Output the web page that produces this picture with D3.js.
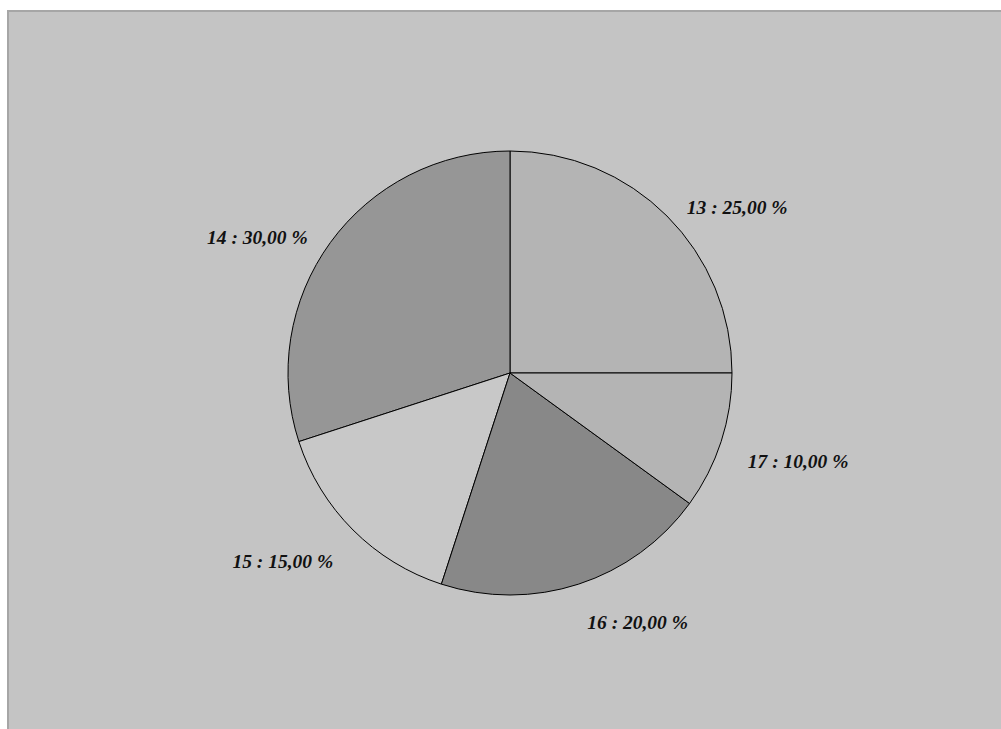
<!DOCTYPE html>
<html>
<head>
<meta charset="utf-8">
<script src="https://cdn.jsdelivr.net/npm/d3@7"></script>
<style>
  body { margin: 0; background: #ffffff; }
  .label { font-family: "Liberation Serif", "Times New Roman", serif; font-weight: bold; font-style: italic; font-size: 19.5px; fill: #111; }
</style>
</head>
<body>
<div id="chart"></div>
<script>
// slice data, counter-clockwise from 3 o'clock
var categories = ["13", "14", "15", "16", "17"];
var values = [25, 30, 15, 20, 10];
var colors = ["#b4b4b4", "#969696", "#c8c8c8", "#888888", "#b4b4b4"];

var width = 1001, height = 729;
var cx = 510, cy = 373, radius = 222;

var svg = d3.select("#chart").append("svg")
    .attr("width", width)
    .attr("height", height);

// panel with its grey frame
svg.append("rect")
    .attr("x", 8)
    .attr("y", 11)
    .attr("width", width)
    .attr("height", height)
    .attr("fill", "#c4c4c4")
    .attr("stroke", "#a6a6a6")
    .attr("stroke-width", 2);

var total = d3.sum(values);
var data = categories.map(function(c, i) {
    return { name: c, value: values[i], color: colors[i] };
});

var pie = d3.pie()
    .sort(null)
    .value(function(d) { return d.value; })
    .startAngle(Math.PI / 2)
    .endAngle(Math.PI / 2 - 2 * Math.PI);

var arc = d3.arc().innerRadius(0).outerRadius(radius);

var g = svg.append("g")
    .attr("transform", "translate(" + cx + "," + cy + ")");

var arcs = pie(data);

g.selectAll("path")
    .data(arcs)
    .enter().append("path")
    .attr("d", arc)
    .attr("fill", function(d) { return d.data.color; })
    .attr("stroke", "#000")
    .attr("stroke-width", 1);

// labels sit just outside the rim, text hangs below the anchor point
var labelR = 250;
function fmt(v) {
    return (v / total * 100).toFixed(2).replace(".", ",");
}
g.selectAll("text.label")
    .data(arcs)
    .enter().append("text")
    .attr("class", "label")
    .attr("x", function(d) {
        var a = (d.startAngle + d.endAngle) / 2;
        return labelR * Math.sin(a);
    })
    .attr("y", function(d) {
        var a = (d.startAngle + d.endAngle) / 2;
        return -labelR * Math.cos(a);
    })
    .attr("dy", "0.92em")
    .attr("text-anchor", function(d) {
        var a = (d.startAngle + d.endAngle) / 2;
        return Math.sin(a) >= 0 ? "start" : "end";
    })
    .text(function(d) { return d.data.name + " : " + fmt(d.data.value) + " %"; });
</script>
</body>
</html>
